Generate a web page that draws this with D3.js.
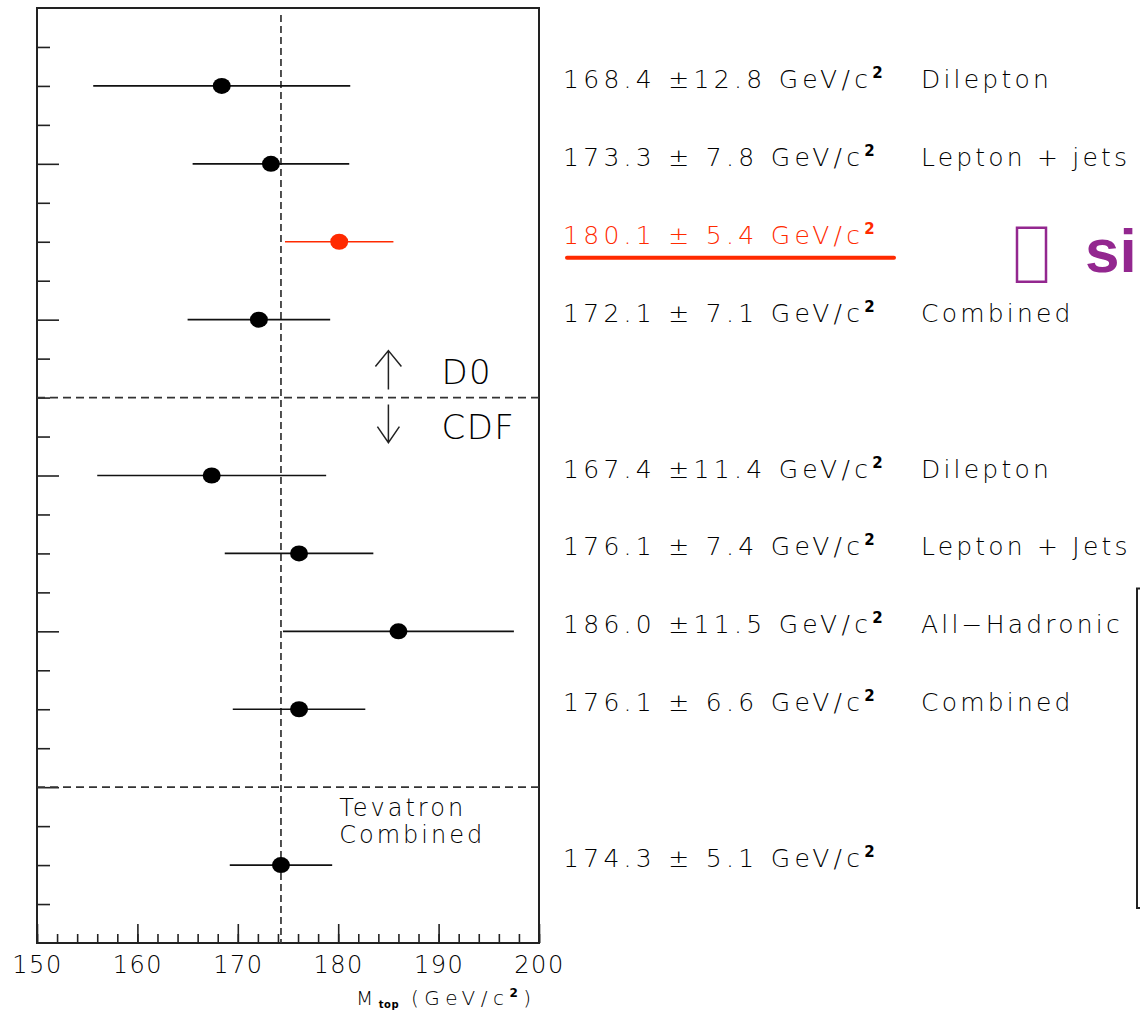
<!DOCTYPE html>
<head>
    <meta charset="utf-8">
    <title>Top quark mass measurements</title>
    <style>
        body { margin: 0; background: #fff; }
        text {
            font-family: "DejaVu Sans", sans-serif;
            font-weight: 200;
            fill: #000;
        }
    </style>
    <script src="https://d3js.org/d3.v7.min.js"></script>
</head>
<body>
    <script>
        // measurements, top to bottom (D0, then CDF, then Tevatron average)
        var categories = ["Dilepton", "Lepton + jets", "", "Combined",
                          "Dilepton", "Lepton + Jets", "All\u2212Hadronic", "Combined", ""];
        var rows = [0, 1, 2, 3, 5, 6, 7, 8, 10];
        var masses = [168.4, 173.3, 180.1, 172.1, 167.4, 176.1, 186.0, 176.1, 174.3];
        var errors = [12.8, 7.8, 5.4, 7.1, 11.4, 7.4, 11.5, 6.6, 5.1];
        var highlighted = [false, false, true, false, false, false, false, false, false];
        var dividers = [4, 9];
        var groupLabels = ["D0", "CDF"];
        var averageLabel = ["Tevatron", "Combined"];
        var xTicks = [150, 160, 170, 180, 190, 200];
        var sideNote = "si";

        var width = 1140, height = 1013;
        var red = "#ff2a00", purple = "#93278f";

        var x = d3.scaleLinear().domain([150, 200]).range([37, 539]);
        var y = d3.scaleLinear().domain([-1, 11]).range([8, 943]);

        var svg = d3.select("body")
            .append("svg")
            .attr("width", width)
            .attr("height", height);

        svg.append("rect")
            .attr("width", width).attr("height", height)
            .attr("fill", "#fff");

        var plot = svg.append("g").attr("id", "plot");

        // bottom axis: major and minor ticks point inward
        plot.append("g")
            .attr("transform", "translate(0," + y(11) + ")")
            .call(d3.axisBottom(x).tickValues(d3.range(150, 201, 2)).tickSize(-9).tickFormat(""));
        var xMajor = plot.append("g")
            .attr("transform", "translate(0," + y(11) + ")")
            .call(d3.axisBottom(x).tickValues(xTicks).tickSize(-19).tickPadding(0));
        xMajor.selectAll("text")
            .attr("dy", null)
            .attr("y", 30)
            .attr("fill", "#000")
            .style("font-size", "24px")
            .style("letter-spacing", "1.5px");

        // left axis: ticks every half row, longer ones every two rows
        var yVals = d3.range(-0.5, 10.51, 0.5);
        plot.append("g")
            .attr("transform", "translate(" + x(150) + ",0)")
            .call(d3.axisLeft(y).tickValues(yVals.filter(v => (v + 1) % 2 !== 0)).tickSize(-13).tickFormat(""));
        plot.append("g")
            .attr("transform", "translate(" + x(150) + ",0)")
            .call(d3.axisLeft(y).tickValues(yVals.filter(v => (v + 1) % 2 === 0)).tickSize(-22).tickFormat(""));

        plot.selectAll(".domain").remove();
        plot.selectAll(".tick line")
            .attr("stroke", "#222")
            .attr("stroke-width", 1.6);

        // frame
        plot.append("rect")
            .attr("x", x(150)).attr("y", y(-1))
            .attr("width", x(200) - x(150))
            .attr("height", y(11) - y(-1))
            .attr("fill", "none")
            .attr("stroke", "#222")
            .attr("stroke-width", 2);

        // average line and experiment separators
        var combined = masses[masses.length - 1];
        plot.append("line")
            .attr("x1", x(combined)).attr("x2", x(combined))
            .attr("y1", y(-1) + 7).attr("y2", y(11))
            .attr("stroke", "#333")
            .attr("stroke-width", 1.7)
            .attr("stroke-dasharray", "7,4");

        plot.selectAll(".divider")
            .data(dividers)
            .enter()
            .append("line")
            .attr("class", "divider")
            .attr("x1", x(150)).attr("x2", x(200))
            .attr("y1", d => y(d)).attr("y2", d => y(d))
            .attr("stroke", "#333")
            .attr("stroke-width", 1.6)
            .attr("stroke-dasharray", "8,5");

        // D0 / CDF arrows
        var ax = x(185), ay = y(dividers[0]);
        var arrows = plot.append("g")
            .attr("fill", "none")
            .attr("stroke", "#222")
            .attr("stroke-width", 1.5);
        arrows.append("path")
            .attr("d", "M" + ax + "," + (ay - 8) + "V" + (ay - 47) +
                       "M" + (ax - 13) + "," + (ay - 31) + "L" + ax + "," + (ay - 47) + "L" + (ax + 13) + "," + (ay - 31));
        arrows.append("path")
            .attr("d", "M" + ax + "," + (ay + 7) + "V" + (ay + 45) +
                       "M" + (ax - 11) + "," + (ay + 29) + "L" + ax + "," + (ay + 45) + "L" + (ax + 11) + "," + (ay + 29));

        plot.selectAll(".group")
            .data(groupLabels)
            .enter()
            .append("text")
            .attr("class", "group")
            .attr("x", ax + 53)
            .attr("y", (d, i) => i === 0 ? ay - 14 : ay + 41)
            .style("font-size", "34px")
            .style("letter-spacing", "1.5px")
            .text(d => d);

        plot.selectAll(".average")
            .data(averageLabel)
            .enter()
            .append("text")
            .attr("class", "average")
            .attr("x", x(180.1))
            .attr("y", (d, i) => y(dividers[1]) + 29 + i * 27)
            .style("font-size", "24px")
            .style("letter-spacing", "3px")
            .text(d => d);

        // error bars and points
        var points = rows.map((r, i) => ({
            row: r, m: masses[i], e: errors[i], cat: categories[i], hl: highlighted[i]
        }));

        plot.selectAll(".bar")
            .data(points)
            .enter()
            .append("line")
            .attr("class", "bar")
            .attr("x1", d => x(d.m - d.e)).attr("x2", d => x(d.m + d.e))
            .attr("y1", d => y(d.row)).attr("y2", d => y(d.row))
            .attr("stroke", d => d.hl ? red : "#111")
            .attr("stroke-width", 1.6);

        plot.selectAll(".dot")
            .data(points)
            .enter()
            .append("ellipse")
            .attr("class", "dot")
            .attr("cx", d => x(d.m))
            .attr("cy", d => y(d.row))
            .attr("rx", 9)
            .attr("ry", 8)
            .attr("fill", d => d.hl ? red : "#000");

        // value and category labels
        var labels = svg.append("g").attr("id", "labels");
        var valueText = labels.selectAll(".value")
            .data(points)
            .enter()
            .append("text")
            .attr("class", "value")
            .attr("x", 563)
            .attr("y", d => y(d.row) + 2)
            .style("font-size", "25px")
            .style("letter-spacing", "4.3px")
            .style("fill", d => d.hl ? red : null);
        valueText.append("tspan")
            .text(d => d.m.toFixed(1) + " \u00b1" + (d.e < 10 ? " " : "") + d.e.toFixed(1) + " GeV/c");
        valueText.append("tspan")
            .attr("dy", -10)
            .style("font-size", "15px")
            .style("font-weight", "bold")
            .text("2");

        labels.selectAll(".cat")
            .data(points.filter(d => d.cat))
            .enter()
            .append("text")
            .attr("class", "cat")
            .attr("x", 921)
            .attr("y", d => y(d.row) + 2)
            .style("font-size", "25px")
            .style("letter-spacing", "3.2px")
            .text(d => d.cat);

        // red underline of the highlighted value
        var hl = points.filter(d => d.hl)[0];
        labels.append("line")
            .attr("x1", 567).attr("x2", 894)
            .attr("y1", y(hl.row) + 16).attr("y2", y(hl.row) + 16)
            .attr("stroke", red)
            .attr("stroke-width", 4)
            .attr("stroke-linecap", "round");

        // purple note at the right edge
        labels.append("rect")
            .attr("x", 1017).attr("y", y(hl.row) - 14)
            .attr("width", 29).attr("height", 54)
            .attr("fill", "none")
            .attr("stroke", purple)
            .attr("stroke-width", 2.5);
        labels.append("text")
            .attr("x", 1085)
            .attr("y", y(hl.row) + 30)
            .style("font-family", "'Liberation Sans', Arial, sans-serif")
            .style("font-weight", "bold")
            .style("font-size", "62px")
            .style("fill", purple)
            .text(sideNote);

        // bracket at the right edge
        labels.append("path")
            .attr("d", "M1141," + y(6.45) + "H1137V" + y(10.55) + "H1141")
            .attr("fill", "none")
            .attr("stroke", "#222")
            .attr("stroke-width", 2);

        // axis title
        var title = svg.append("text")
            .attr("x", 356)
            .attr("y", 1005)
            .style("font-size", "20px")
            .style("letter-spacing", "5.5px");
        title.append("tspan").text("M");
        title.append("tspan").attr("dy", 3).style("font-size", "10px").style("font-weight", "bold").style("letter-spacing", "0.5px").text("top");
        title.append("tspan").attr("dy", -3).text(" (GeV/c");
        title.append("tspan").attr("dy", -8).style("font-size", "12px").style("font-weight", "bold").text("2");
        title.append("tspan").attr("dy", 8).text(")");
    </script>
</body>
